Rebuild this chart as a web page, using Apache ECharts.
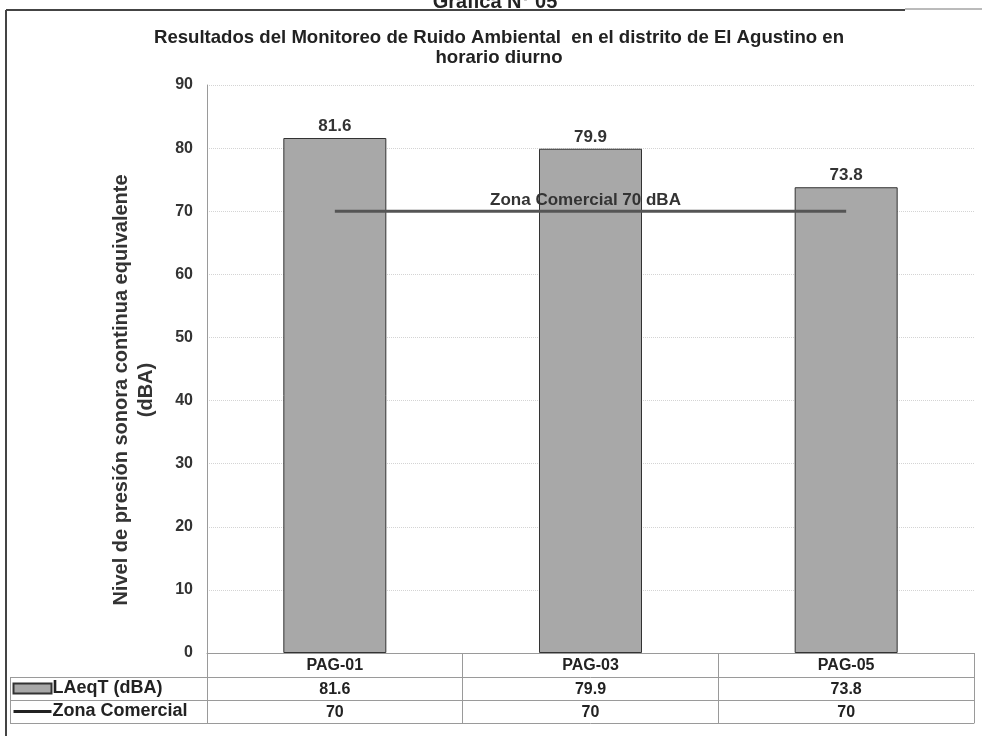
<!DOCTYPE html>
<html><head><meta charset="utf-8">
<script src="https://cdn.jsdelivr.net/npm/echarts@6/dist/echarts.min.js"></script>
<style>html,body{margin:0;padding:0;background:#fff}#c{width:982px;height:736px}</style>
</head><body><div id="c"></div>
<script>
const categories = ['PAG-01', 'PAG-03', 'PAG-05'];
const laeq = [81.6, 79.9, 73.8];
const zona = [70, 70, 70];
const yTicks = [0, 10, 20, 30, 40, 50, 60, 70, 80, 90];
const seriesNames = ['LAeqT (dBA)', 'Zona Comercial'];
const lineLabel = 'Zona Comercial 70 dBA';

const narrow = '"Liberation Sans Narrow", "Liberation Sans", Arial, sans-serif';
const sans = '"Liberation Sans", Arial, sans-serif';
const gridCol = '#9a9a9a';

const chart = echarts.init(document.getElementById('c'), null, {renderer: 'canvas'});
const tableAxis = (offset, data, show) => ({
  type: 'category', data: data, position: 'bottom', offset: offset, gridIndex: 0,
  axisLine: {show: true, lineStyle: {color: gridCol, width: 1}},
  axisTick: {show: false},
  axisLabel: {show: show, margin: 5, fontFamily: narrow, fontWeight: 'bold', fontSize: 16, color: '#222'},
  splitLine: {show: false}
});
chart.setOption({
  animation: false,
  backgroundColor: '#fff',
  title: [{
    text: 'Resultados del Monitoreo de Ruido Ambiental  en el distrito de El Agustino en\nhorario diurno',
    left: 494, top: 23, textAlign: 'center',
    textStyle: {fontFamily: narrow, fontWeight: 'bold', fontSize: 18.6, lineHeight: 20, color: '#222'}
  }, {
    text: 'Gráfica N° 05', left: 490, top: -13, textAlign: 'center',
    textStyle: {fontFamily: sans, fontWeight: 'bold', fontSize: 20, color: '#222'}
  }],
  legend: {
    orient: 'vertical', left: 7, top: 673, itemGap: 2, itemWidth: 38, itemHeight: 10,
    data: [
      {name: seriesNames[0], icon: 'rect'},
      {name: seriesNames[1], itemStyle: {opacity: 0}, lineStyle: {color: '#222', width: 3}}
    ],
    textStyle: {fontFamily: narrow, fontWeight: 'bold', fontSize: 18, lineHeight: 21, color: '#222', padding: [0, 0, 0, -4]}
  },
  grid: {left: 207, right: 8, top: 85, bottom: 83},
  xAxis: [
    {
      type: 'category', data: categories, position: 'bottom',
      axisLine: {show: true, lineStyle: {color: gridCol}},
      axisTick: {show: true, alignWithLabel: false, length: 70, lineStyle: {color: gridCol}},
      axisLabel: {margin: 5, fontFamily: narrow, fontWeight: 'bold', fontSize: 16, color: '#222'}
    },
    tableAxis(24, laeq.map(v => v.toFixed(1)), true),
    tableAxis(47, zona.map(v => String(v)), true),
    tableAxis(70, categories, false)
  ],
  yAxis: {
    type: 'value', min: yTicks[0], max: yTicks[yTicks.length - 1], interval: 10,
    name: 'Nivel de presión sonora continua equivalente\n(dBA)',
    nameLocation: 'middle', nameGap: 48, nameRotate: 90,
    nameTextStyle: {fontFamily: sans, fontWeight: 'bold', fontSize: 20, lineHeight: 25, color: '#333', padding: [0, 42, 0, 0]},
    axisLine: {show: true, lineStyle: {color: gridCol}},
    axisTick: {show: false},
    axisLabel: {margin: 14, fontFamily: sans, fontWeight: 'bold', fontSize: 16, color: '#333'},
    splitLine: {show: true, lineStyle: {color: '#d4d4d4', type: 'dotted'}}
  },
  series: [
    {
      name: seriesNames[0], type: 'bar', data: laeq, barWidth: 103,
      itemStyle: {color: '#a8a8a8', borderColor: '#333', borderWidth: 1},
      label: {show: true, position: 'top', distance: 3, fontFamily: sans, fontWeight: 'bold', fontSize: 17, color: '#333',
        formatter: p => p.value.toFixed(1)}
    },
    {
      name: seriesNames[1], type: 'line', z: 5, symbol: 'none',
      data: zona,
      lineStyle: {color: '#555', width: 3},
      itemStyle: {color: '#333'},
      markPoint: {
        symbol: 'circle', symbolSize: 0,
        data: [{coord: [categories[1], zona[1]], value: zona[1]}],
        label: {show: true, position: 'top', distance: 2, offset: [-5, 0], formatter: lineLabel,
          fontFamily: sans, fontWeight: 'bold', fontSize: 17, color: '#333'}
      }
    }
  ],
  graphic: [
    {type: 'line', shape: {x1: 6, y1: 10, x2: 905, y2: 10}, style: {stroke: '#444', lineWidth: 2}},
    {type: 'line', shape: {x1: 905, y1: 9, x2: 982, y2: 9}, style: {stroke: '#777', lineWidth: 1}},
    {type: 'line', shape: {x1: 6, y1: 10, x2: 6, y2: 736}, style: {stroke: '#444', lineWidth: 2}},
    {type: 'line', shape: {x1: 10, y1: 677.5, x2: 207, y2: 677.5}, style: {stroke: gridCol, lineWidth: 1}},
    {type: 'line', shape: {x1: 10, y1: 700.5, x2: 207, y2: 700.5}, style: {stroke: gridCol, lineWidth: 1}},
    {type: 'line', shape: {x1: 10, y1: 723.5, x2: 207, y2: 723.5}, style: {stroke: gridCol, lineWidth: 1}},
    {type: 'line', shape: {x1: 10.5, y1: 677, x2: 10.5, y2: 724}, style: {stroke: gridCol, lineWidth: 1}}
  ]
});
</script></body></html>
